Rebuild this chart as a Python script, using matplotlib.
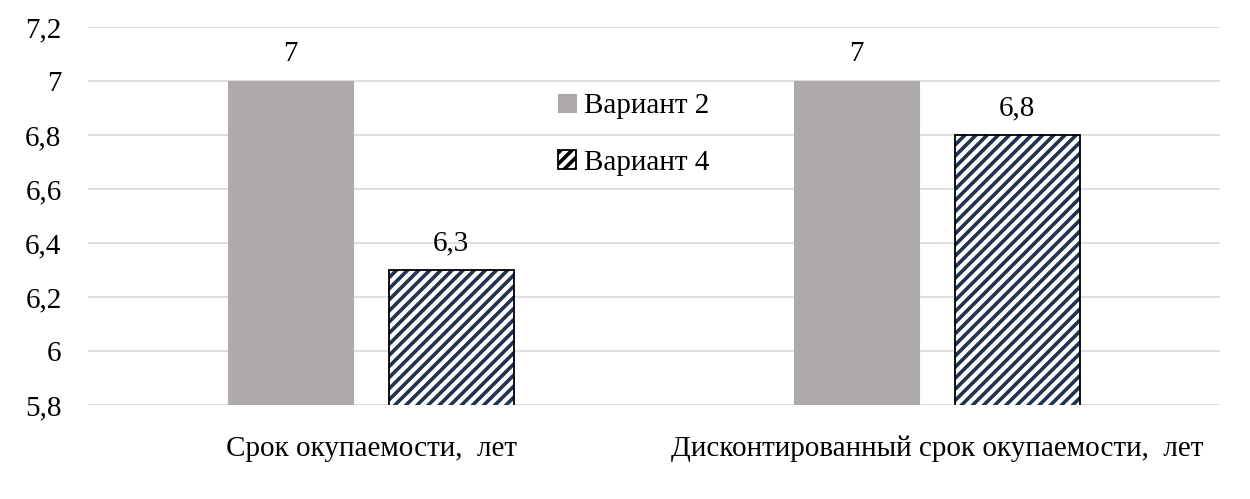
import numpy as np
import matplotlib.pyplot as plt

# data
categories = ["Срок окупаемости,  лет", "Дисконтированный срок окупаемости,  лет"]
series_names = ["Вариант 2", "Вариант 4"]
variant2 = [7.0, 7.0]
variant4 = [6.3, 6.8]
y_ticks = [5.8, 6.0, 6.2, 6.4, 6.6, 6.8, 7.0, 7.2]

plt.rcParams["font.family"] = ["Liberation Serif", "DejaVu Serif"]
plt.rcParams["hatch.linewidth"] = 2.6

HATCH_COL = "#1f3350"


def comma(v):
    return f"{v:g}".replace(".", ",")


fig = plt.figure(figsize=(12.5, 4.99), dpi=100)
ax = fig.add_axes([0.0704, 0.188, 0.9056, 0.758])

x = np.arange(len(categories))
width = 0.221
off = 0.142
fs = 21

b1 = ax.bar(x - off, variant2, width, color="#aeaaaa",
            edgecolor="#aeaaaa", linewidth=0.8, label=series_names[0], zorder=3)
# hatch drawn in navy, then a black outline on top
b2 = ax.bar(x + off, variant4, width, color="white", edgecolor=HATCH_COL,
            hatch="///", linewidth=0, label=series_names[1], zorder=3)
ax.bar(x + off, variant4, width, fill=False, edgecolor="black",
       linewidth=1.3, zorder=4)

for bars, vals in [(b1, variant2), (b2, variant4)]:
    for rect, v in zip(bars, vals):
        ax.annotate(comma(v), (rect.get_x() + rect.get_width() / 2, v),
                    xytext=(0, 10), textcoords="offset points",
                    ha="center", va="bottom", fontsize=fs)

ax.set_ylim(5.8, 7.2)
ax.set_xlim(-0.5, 1.5)
ax.set_yticks(y_ticks)
ax.set_yticklabels([comma(v) for v in y_ticks], fontsize=fs)
ax.set_xticks(x)
ax.set_xticklabels(categories, fontsize=fs)
ax.tick_params(axis="both", length=0)
ax.tick_params(axis="y", pad=19)
ax.tick_params(axis="x", pad=22)

ax.yaxis.grid(True, color="#d9d9d9", linewidth=1.2, zorder=0)
ax.set_axisbelow(True)
for s in ax.spines.values():
    s.set_visible(False)

leg = ax.legend(loc="upper left", bbox_to_anchor=(532 / 1250, 1 - 67 / 499),
                bbox_transform=fig.transFigure, frameon=False, fontsize=fs,
                handlelength=0.6, handleheight=0.6, handletextpad=0.3,
                labelspacing=1.05)
leg.legend_handles[1].set_edgecolor("black")
leg.legend_handles[1].set_linewidth(1.3)

fig.savefig("out.png", dpi=100)
